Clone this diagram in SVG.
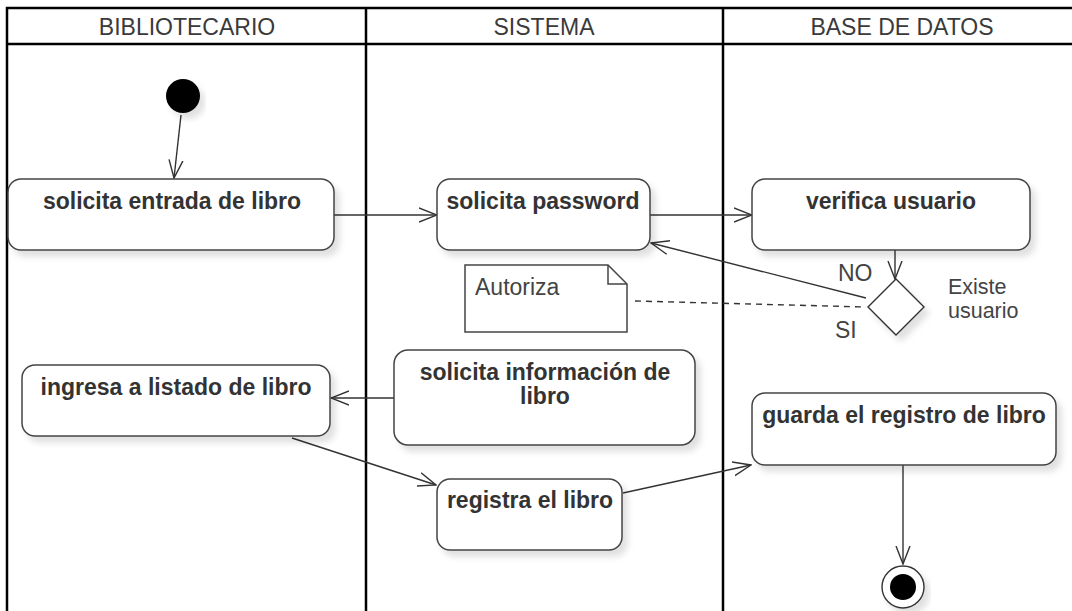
<svg xmlns="http://www.w3.org/2000/svg" width="1072" height="611" viewBox="0 0 1072 611">
<style>
.lane{fill:none;stroke:#000;stroke-width:2.5}
.hdr{font-family:"Liberation Sans",Arial,sans-serif;font-size:23px;fill:#3a3a3a;text-anchor:middle}
.box{fill:#fff;stroke:#444;stroke-width:1.5;filter:url(#sh)}
.lbl{font-family:"Liberation Sans",Arial,sans-serif;font-size:23px;font-weight:bold;fill:#333;text-anchor:middle}
.txt{font-family:"Liberation Sans",Arial,sans-serif;font-size:23px;fill:#444}
.sm{font-size:21.5px}
.edge{fill:none;stroke:#333;stroke-width:1.4;marker-end:url(#arr)}
.dash{fill:none;stroke:#333;stroke-width:1.4;stroke-dasharray:6,5}
</style>
<defs>
<filter id="sh" x="-10%" y="-10%" width="125%" height="135%">
<feDropShadow dx="5" dy="6" stdDeviation="3" flood-color="#000" flood-opacity="0.12"/>
</filter>
<marker id="arr" viewBox="0 0 19 16" refX="18" refY="8" markerWidth="19" markerHeight="16" markerUnits="userSpaceOnUse" orient="auto">
<path d="M0,1 L18,8 L0,15" fill="none" stroke="#333" stroke-width="1.4"/>
</marker>
</defs>
<rect width="1072" height="611" fill="#fff"/>
<g id="lanes">
<rect class="lane" x="7" y="8" width="1080" height="620"/>
<line class="lane" x1="7" y1="44" x2="1080" y2="44"/>
<line class="lane" x1="366" y1="8" x2="366" y2="620"/>
<line class="lane" x1="723" y1="8" x2="723" y2="620"/>
<text class="hdr" x="187" y="35">BIBLIOTECARIO</text>
<text class="hdr" x="544" y="35">SISTEMA</text>
<text class="hdr" x="902" y="35">BASE DE DATOS</text>
</g>
<g id="connectors">
<path class="edge" d="M181,115 L174,178"/>
<path class="edge" d="M334,215 L437,215"/>
<path class="edge" d="M650,215 L752,215"/>
<path class="edge" d="M895,250 L895,279"/>
<path class="edge" d="M866,298 L651,243"/>
<path class="dash" d="M635,301 L866,307"/>
<path class="edge" d="M394,398 L331,398"/>
<path class="edge" d="M292,438 L436,485"/>
<path class="edge" d="M623,493 L751,465"/>
<path class="edge" d="M903,465 L903,564"/>
<text class="txt" x="838" y="281">NO</text>
<text class="txt" x="835" y="338">SI</text>
</g>
<g id="start"><circle cx="183" cy="96" r="17" fill="#000" filter="url(#sh)"/></g>
<g id="n1"><rect class="box" x="8" y="179" width="326" height="71" rx="13"/><text class="lbl" x="172" y="209">solicita entrada de libro</text></g>
<g id="n2"><rect class="box" x="437" y="179" width="213" height="71" rx="13"/><text class="lbl" x="543" y="209">solicita password</text></g>
<g id="n3"><rect class="box" x="752" y="179" width="278" height="71" rx="13"/><text class="lbl" x="891" y="209">verifica usuario</text></g>
<g id="decision"><path d="M896,279 L924,307 L896,335 L868,307 Z" fill="#fff" stroke="#333" stroke-width="1.4" filter="url(#sh)"/>
<text class="txt sm" x="948" y="294">Existe</text><text class="txt sm" x="948" y="318">usuario</text></g>
<g id="note"><path d="M465,265 L608,265 L627,284 L627,332 L465,332 Z" fill="#fff" stroke="#444" stroke-width="1.5"/><path d="M608,265 L608,284 L627,284" fill="none" stroke="#444" stroke-width="1.5"/><text class="txt" x="475" y="295">Autoriza</text></g>
<g id="n4"><rect class="box" x="22" y="365" width="308" height="71" rx="13"/><text class="lbl" x="176" y="395">ingresa a listado de libro</text></g>
<g id="n5"><rect class="box" x="394" y="350" width="301" height="95" rx="14"/><text class="lbl" x="545" y="380">solicita información de</text><text class="lbl" x="545" y="404">libro</text></g>
<g id="n6"><rect class="box" x="437" y="479" width="185" height="71" rx="13"/><text class="lbl" x="530" y="508">registra el libro</text></g>
<g id="n7"><rect class="box" x="752" y="393" width="304" height="72" rx="13"/><text class="lbl" x="904" y="423">guarda el registro de libro</text></g>
<g id="end"><circle cx="903" cy="587" r="21" fill="#fff" stroke="#333" stroke-width="1.4" filter="url(#sh)"/><circle cx="903" cy="587" r="13" fill="#000"/></g>
</svg>
